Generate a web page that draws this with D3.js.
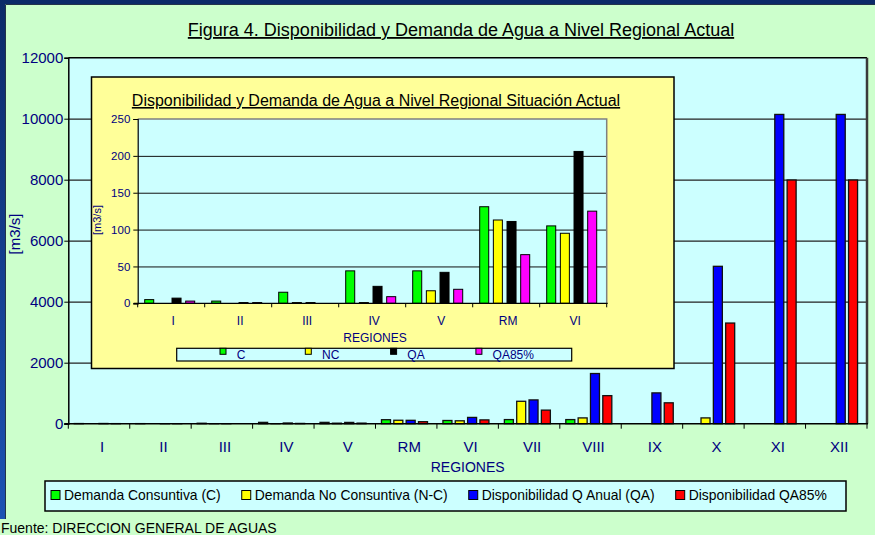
<!DOCTYPE html>
<html>
<head>
<meta charset="utf-8">
<script src="https://cdn.jsdelivr.net/npm/d3@7"></script>
<style>
body { margin: 0; }
svg text { font-family: "Liberation Sans", Arial, sans-serif; }
</style>
</head>
<body>
<svg id="chart"></svg>
<script>
var width = 875,
    height = 535;

// data, m3/s
var regiones = ["I", "II", "III", "IV", "V", "RM", "VI", "VII", "VIII", "IX", "X", "XI", "XII"];
var demandaC = [5, 3, 15, 44, 44, 131, 105, 135, 135, 0, 0, 0, 0];
var demandaNC = [0, 0, 1, 1, 17, 113, 95, 735, 190, 0, 190, 0, 0];
var dispQA = [7, 1, 1, 23, 42, 111, 206, 780, 1645, 1010, 5160, 10140, 10140];
var dispQA85 = [3, 1, 0, 9, 19, 66, 125, 445, 920, 685, 3300, 7990, 7990];
var yTicks = [0, 2000, 4000, 6000, 8000, 10000, 12000];

var insetRegiones = ["I", "II", "III", "IV", "V", "RM", "VI"];
var insetTicks = [0, 50, 100, 150, 200, 250];

var seriesNames = ["Demanda Consuntiva (C)", "Demanda No Consuntiva (N-C)", "Disponibilidad Q Anual (QA)", "Disponibilidad QA85%"];
var insetNames = ["C", "NC", "QA", "QA85%"];
var mainColors = ["#00ff00", "#ffff00", "#0000ff", "#ff0000"];
var insetColors = ["#00ff00", "#ffff00", "#000000", "#ff00ff"];
var navy = "#000080";

var series = [demandaC, demandaNC, dispQA, dispQA85];
var rows = regiones.map(function(r, i) {
  return { region: r, values: series.map(function(s) { return s[i]; }) };
});

var svg = d3.select("#chart")
    .attr("width", width)
    .attr("height", height);

// background frame
var grad = svg.append("defs").append("linearGradient")
    .attr("id", "edge").attr("x1", 0).attr("y1", 0).attr("x2", 0).attr("y2", 1);
grad.append("stop").attr("offset", "0%").attr("stop-color", "#0b2a68");
grad.append("stop").attr("offset", "100%").attr("stop-color", "#1c52b4");

svg.append("rect").attr("width", width).attr("height", height).attr("fill", "#ccffcc");
svg.append("rect").attr("width", width).attr("height", 4).attr("fill", "#0b2a68");
svg.append("rect").attr("width", 5).attr("height", 519).attr("fill", "url(#edge)");
svg.append("path").attr("d", "M5.5,519V4.5H875").attr("fill", "none").attr("stroke", "#22334a").attr("stroke-width", 1);

svg.append("text")
    .attr("x", 461).attr("y", 36)
    .attr("text-anchor", "middle")
    .attr("font-size", 18)
    .attr("text-decoration", "underline")
    .text("Figura 4. Disponibilidad y Demanda de Agua a Nivel Regional Actual");

// ---- main chart ----
var plot = { left: 68.3, right: 867, top: 57.7, bottom: 423.7 };

var x = d3.scaleBand().domain(regiones).range([plot.left, plot.right]);
var xs = d3.scaleBand().domain(d3.range(4)).range([6, 52]).paddingInner(0.27);
var y = d3.scaleLinear().domain([0, 12000]).range([plot.bottom, plot.top]);

svg.append("rect")
    .attr("x", plot.left).attr("y", plot.top)
    .attr("width", plot.right - plot.left).attr("height", plot.bottom - plot.top)
    .attr("fill", "#ccffff");

svg.append("g")
    .attr("transform", "translate(" + plot.left + ",0)")
    .call(d3.axisLeft(y).tickValues(yTicks.slice(1, -1)).tickSize(-(plot.right - plot.left)).tickFormat(""))
    .call(function(g) { g.select(".domain").remove(); })
    .selectAll("line").attr("stroke", "#222").attr("stroke-width", 1.2);

svg.append("g").selectAll("g")
    .data(rows)
  .enter().append("g")
    .attr("transform", function(d) { return "translate(" + x(d.region) + ",0)"; })
  .selectAll("rect")
    .data(function(d) { return d.values; })
  .enter().append("rect")
    .attr("x", function(d, i) { return xs(i); })
    .attr("width", xs.bandwidth())
    .attr("y", function(d) { return y(d); })
    .attr("height", function(d) { return y(0) - y(d); })
    .attr("fill", function(d, i) { return mainColors[i]; })
    .attr("stroke", "#111")
    .attr("stroke-width", 1.3);

var yAxis = svg.append("g")
    .attr("transform", "translate(" + plot.left + ",0)")
    .call(d3.axisLeft(y).tickValues(yTicks).tickFormat(d3.format("d")).tickSize(4).tickPadding(1));
yAxis.select(".domain").attr("stroke", "#000").attr("stroke-width", 1.5);
yAxis.selectAll("line").attr("stroke", "#000");
yAxis.selectAll("text").attr("font-size", 15).attr("fill", navy).attr("font-family", null);

svg.append("line")
    .attr("x1", plot.left).attr("x2", plot.right)
    .attr("y1", plot.top).attr("y2", plot.top)
    .attr("stroke", "#000").attr("stroke-width", 1.5);
svg.append("line")
    .attr("x1", plot.right).attr("x2", plot.right)
    .attr("y1", plot.top).attr("y2", plot.bottom)
    .attr("stroke", "#3a3a3a").attr("stroke-width", 2.5);
svg.append("line")
    .attr("x1", plot.left - 4).attr("x2", plot.right + 1)
    .attr("y1", plot.bottom).attr("y2", plot.bottom)
    .attr("stroke", "#000").attr("stroke-width", 1.5);

svg.append("g").selectAll("line")
    .data(regiones.concat(["end"]))
  .enter().append("line")
    .attr("x1", function(d, i) { return plot.left + i * x.bandwidth(); })
    .attr("x2", function(d, i) { return plot.left + i * x.bandwidth(); })
    .attr("y1", plot.bottom).attr("y2", plot.bottom + 5)
    .attr("stroke", "#000").attr("stroke-width", 1);

svg.append("g").selectAll("text")
    .data(regiones)
  .enter().append("text")
    .attr("x", function(d) { return x(d) + x.bandwidth() / 2 + 3; })
    .attr("y", 451.5)
    .attr("text-anchor", "middle")
    .attr("font-size", 15)
    .attr("fill", navy)
    .text(function(d) { return d; });

svg.append("text")
    .attr("x", (plot.left + plot.right) / 2).attr("y", 471.5)
    .attr("text-anchor", "middle")
    .attr("font-size", 14)
    .attr("fill", navy)
    .text("REGIONES");

svg.append("text")
    .attr("transform", "translate(20,234) rotate(-90)")
    .attr("text-anchor", "middle")
    .attr("font-size", 15)
    .attr("fill", navy)
    .text("[m3/s]");

// legend
svg.append("rect")
    .attr("x", 45).attr("y", 481).attr("width", 801).attr("height", 30)
    .attr("fill", "#ccffff").attr("stroke", "#000").attr("stroke-width", 1.5);

var lx = 51;
seriesNames.forEach(function(name, i) {
  svg.append("rect")
      .attr("x", lx).attr("y", 490.5).attr("width", 9).attr("height", 9)
      .attr("fill", mainColors[i]).attr("stroke", "#000").attr("stroke-width", 1);
  var t = svg.append("text")
      .attr("x", lx + 13).attr("y", 499.5)
      .attr("font-size", 13.9)
      .text(name);
  lx += 13 + t.node().getComputedTextLength() + 21;
});

svg.append("text")
    .attr("x", 1).attr("y", 533)
    .attr("font-size", 14)
    .text("Fuente: DIRECCION GENERAL DE AGUAS");

// ---- inset chart ----
var box = { left: 91.5, top: 77, right: 674, bottom: 368.5 };
var ip = { left: 137.7, right: 606.7, top: 119, bottom: 303.3 };

var inset = svg.append("g");

inset.append("rect")
    .attr("x", box.left).attr("y", box.top)
    .attr("width", box.right - box.left).attr("height", box.bottom - box.top)
    .attr("fill", "#ffff99").attr("stroke", "#000").attr("stroke-width", 1.5);

inset.append("text")
    .attr("x", 376).attr("y", 106)
    .attr("text-anchor", "middle")
    .attr("font-size", 16)
    .attr("text-decoration", "underline")
    .text("Disponibilidad y Demanda de Agua a Nivel Regional Situación Actual");

var ix = d3.scaleBand().domain(insetRegiones).range([ip.left, ip.right]);
var ixs = d3.scaleBand().domain(d3.range(4)).range([7, 57]).paddingInner(0.34);
var iy = d3.scaleLinear().domain([0, 250]).range([ip.bottom, ip.top]);

inset.append("rect")
    .attr("x", ip.left).attr("y", ip.top)
    .attr("width", ip.right - ip.left).attr("height", ip.bottom - ip.top)
    .attr("fill", "#ccffff");

inset.append("g")
    .attr("transform", "translate(" + ip.left + ",0)")
    .call(d3.axisLeft(iy).tickValues(insetTicks.slice(1, -1)).tickSize(-(ip.right - ip.left)).tickFormat(""))
    .call(function(g) { g.select(".domain").remove(); })
    .selectAll("line").attr("stroke", "#111").attr("stroke-width", 1);

inset.append("path")
    .attr("d", "M" + ip.left + "," + ip.top + "H" + ip.right + "V" + ip.bottom)
    .attr("fill", "none").attr("stroke", "#808080").attr("stroke-width", 1.5);

inset.append("g").selectAll("g")
    .data(rows.slice(0, insetRegiones.length))
  .enter().append("g")
    .attr("transform", function(d) { return "translate(" + ix(d.region) + ",0)"; })
  .selectAll("rect")
    .data(function(d) { return d.values; })
  .enter().append("rect")
    .attr("x", function(d, i) { return ixs(i); })
    .attr("width", ixs.bandwidth())
    .attr("y", function(d) { return iy(d); })
    .attr("height", function(d) { return iy(0) - iy(d); })
    .attr("fill", function(d, i) { return insetColors[i]; })
    .attr("stroke", "#000")
    .attr("stroke-width", 1);

var iyAxis = inset.append("g")
    .attr("transform", "translate(" + ip.left + ",0)")
    .call(d3.axisLeft(iy).tickValues(insetTicks).tickSize(4.4).tickPadding(3));
iyAxis.select(".domain").attr("stroke", "#000").attr("stroke-width", 1.2);
iyAxis.selectAll("line").attr("stroke", "#000");
iyAxis.selectAll("text").attr("font-size", 11.5).attr("fill", navy).attr("font-family", null);

inset.append("line")
    .attr("x1", ip.left - 4).attr("x2", ip.right + 1)
    .attr("y1", ip.bottom).attr("y2", ip.bottom)
    .attr("stroke", "#000").attr("stroke-width", 1.2);

inset.append("g").selectAll("line")
    .data(insetRegiones.concat(["end"]))
  .enter().append("line")
    .attr("x1", function(d, i) { return ip.left + i * ix.bandwidth(); })
    .attr("x2", function(d, i) { return ip.left + i * ix.bandwidth(); })
    .attr("y1", ip.bottom).attr("y2", ip.bottom + 4)
    .attr("stroke", "#000").attr("stroke-width", 1);

inset.append("g").selectAll("text")
    .data(insetRegiones)
  .enter().append("text")
    .attr("x", function(d) { return ix(d) + ix.bandwidth() / 2 + 2; })
    .attr("y", 324.5)
    .attr("text-anchor", "middle")
    .attr("font-size", 12)
    .attr("fill", navy)
    .text(function(d) { return d; });

inset.append("text")
    .attr("x", 375).attr("y", 341.5)
    .attr("text-anchor", "middle")
    .attr("font-size", 12)
    .attr("fill", navy)
    .text("REGIONES");

inset.append("text")
    .attr("transform", "translate(101,220) rotate(-90)")
    .attr("text-anchor", "middle")
    .attr("font-size", 11)
    .attr("fill", navy)
    .text("[m3/s]");

inset.append("rect")
    .attr("x", 176.7).attr("y", 348.3).attr("width", 395).attr("height", 12.7)
    .attr("fill", "#ccffff").attr("stroke", "#000").attr("stroke-width", 1.2);

insetNames.forEach(function(name, i) {
  var mx = 220 + i * 85.3;
  inset.append("rect")
      .attr("x", mx).attr("y", 348.3).attr("width", 6).attr("height", 6)
      .attr("fill", insetColors[i]).attr("stroke", "#000").attr("stroke-width", 1);
  inset.append("text")
      .attr("x", mx + 16.7).attr("y", 359.3)
      .attr("font-size", 12)
      .attr("fill", navy)
      .text(name);
});
</script>
</body>
</html>
